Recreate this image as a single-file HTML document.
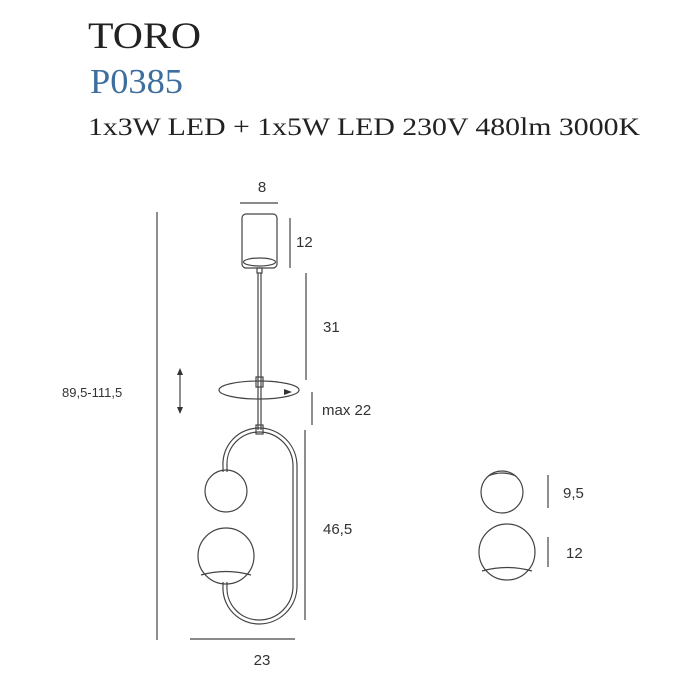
<!DOCTYPE html>
<html><head><style>html,body{margin:0;padding:0;background:#fff;}svg{display:block}</style></head>
<body>
<svg width="700" height="700" viewBox="0 0 700 700" xmlns="http://www.w3.org/2000/svg">
<g font-family="Liberation Serif, serif">
<text x="88" y="48" font-size="37" fill="#222" textLength="113" lengthAdjust="spacingAndGlyphs">TORO</text>
<text x="90" y="93" font-size="35" fill="#3d6e9e" textLength="93" lengthAdjust="spacingAndGlyphs">P0385</text>
<text x="88" y="135" font-size="25" fill="#222" textLength="552" lengthAdjust="spacingAndGlyphs">1x3W  LED + 1x5W  LED  230V  480lm  3000K</text>
</g>
<g stroke="#444" fill="none" stroke-width="1.2">
<line x1="157" y1="212" x2="157" y2="640"/>
<line x1="240" y1="203" x2="278" y2="203"/>
<line x1="290" y1="218" x2="290" y2="268"/>
<line x1="306" y1="273" x2="306" y2="380"/>
<line x1="312" y1="392" x2="312" y2="425"/>
<line x1="305" y1="430" x2="305" y2="620"/>
<line x1="190" y1="639" x2="295" y2="639"/>
<line x1="548" y1="475" x2="548" y2="508"/>
<line x1="548" y1="537" x2="548" y2="567"/>
<line x1="180" y1="372" x2="180" y2="410"/>
<rect x="242" y="214" width="35" height="54" rx="4"/>
<ellipse cx="259.5" cy="262" rx="16" ry="4"/>
<rect x="257" y="268" width="5" height="5"/>
<line x1="258" y1="273" x2="258" y2="430"/>
<line x1="261" y1="273" x2="261" y2="430"/>
<rect x="256" y="377" width="7" height="10"/>
<ellipse cx="259" cy="390" rx="40" ry="9"/>
<rect x="256" y="425" width="7" height="9"/>
<path d="M227 472 L227 466 A32 32 0 0 1 259 432 A34 34 0 0 1 293 466 L293 586 A34 34 0 0 1 259 620 A32 32 0 0 1 227 586 L227 582"/>
<path d="M223 472 L223 466 A36 36 0 0 1 259 428 A38 38 0 0 1 297 466 L297 586 A38 38 0 0 1 259 624 A36 36 0 0 1 223 586 L223 582"/>
<circle cx="226" cy="491" r="21"/>
<circle cx="226" cy="556" r="28"/>
<path d="M201 575 Q226 568 251 575"/>
<circle cx="502" cy="492" r="21"/>
<path d="M488 476 Q502 470 516 476"/>
<circle cx="507" cy="552" r="28"/>
<path d="M482 571 Q507 564 532 571"/>
</g>
<path d="M180 368 l-3 7 h6z M180 414 l-3 -7 h6z" fill="#333"/>
<path d="M292 392 l-8 -3 v6z" fill="#333"/>
<g font-family="Liberation Sans, sans-serif" fill="#333" font-size="15">
<text x="262" y="192" text-anchor="middle">8</text>
<text x="296" y="247">12</text>
<text x="323" y="332">31</text>
<text x="322" y="415">max 22</text>
<text x="323" y="534">46,5</text>
<text x="262" y="665" text-anchor="middle">23</text>
<text x="62" y="397" font-size="13">89,5-111,5</text>
<text x="563" y="498">9,5</text>
<text x="566" y="558">12</text>
</g>
</svg>
</body></html>
